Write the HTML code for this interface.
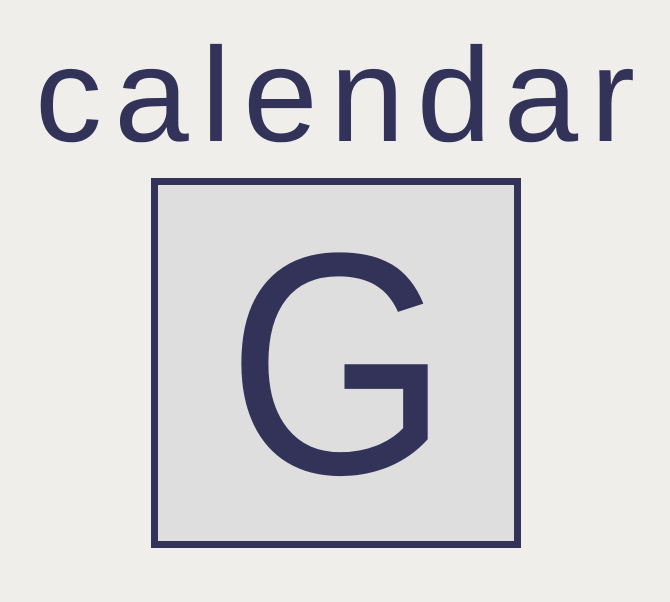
<!DOCTYPE html>
<html><head><meta charset="utf-8"><style>
html,body{margin:0;padding:0;background:#efeeeb;}
svg{display:block}
</style></head><body>
<svg width="670" height="602" viewBox="0 0 670 602">
<rect x="0" y="0" width="670" height="602" fill="#efeeeb"/>
<text x="35" y="141" font-family="Liberation Sans, sans-serif" font-size="134" fill="#33335a" textLength="600" lengthAdjust="spacing">calendar</text>
<rect x="154.5" y="181.5" width="363" height="363" fill="#dedede" stroke="#33335a" stroke-width="7"/>
<text x="227" y="473" font-family="Liberation Sans, sans-serif" font-size="316" fill="#33335a" textLength="222" lengthAdjust="spacingAndGlyphs">G</text>
</svg>
</body></html>
